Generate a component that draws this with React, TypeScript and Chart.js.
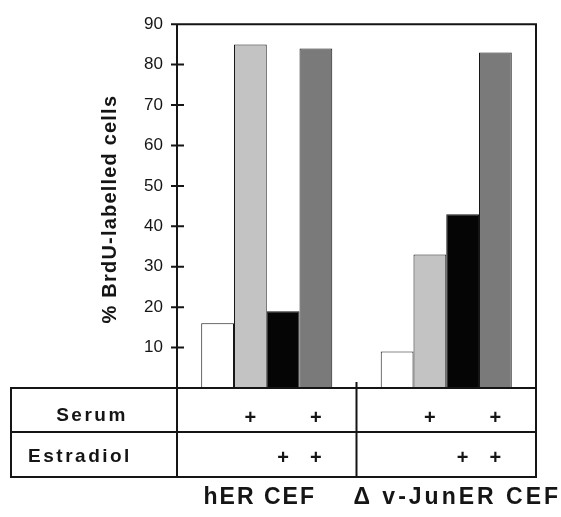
import React, { useEffect, useRef } from "react";
import { Chart, registerables } from "chart.js";

Chart.register(...registerables);

const categories = ["hER CEF", "\u0394 v-JunER CEF"];
const conditionLabels = ["none", "Serum", "Estradiol", "Serum + Estradiol"];
const valuesNone = [16, 9];
const valuesSerum = [85, 33];
const valuesEstradiol = [19, 43];
const valuesBoth = [84, 83];
const serumRow = [false, true, false, true];
const estradiolRow = [false, false, true, true];
const yTicks = [0, 10, 20, 30, 40, 50, 60, 70, 80, 90];
const yTitle = "% BrdU-labelled cells";
const rowLabels = ["Serum", "Estradiol"];

const FONT = '"Liberation Sans", Arial, Helvetica, sans-serif';
const INK = "#151515";

const tablePlugin = {
  id: "tablePlugin",
  afterDatasetsDraw(chart: any) {
    const { ctx, chartArea, scales } = chart;
    const { left, right, top, bottom } = chartArea;
    const y = scales.y;
    const tableLeft = 11;
    const row1 = bottom + 44;
    const row2 = bottom + 89;
    const mid = (scales.x.getPixelForValue(0) + scales.x.getPixelForValue(1)) / 2;
    ctx.save();
    ctx.strokeStyle = INK;
    ctx.lineWidth = 2;
    ctx.lineCap = "square";
    ctx.beginPath();
    // frame
    ctx.moveTo(left, bottom);
    ctx.lineTo(left, top);
    ctx.lineTo(right, top);
    ctx.lineTo(right, row2);
    // table horizontal lines
    ctx.moveTo(tableLeft, bottom);
    ctx.lineTo(right, bottom);
    ctx.moveTo(tableLeft, row1);
    ctx.lineTo(right, row1);
    ctx.moveTo(tableLeft, row2);
    ctx.lineTo(right, row2);
    // verticals
    ctx.moveTo(tableLeft, bottom);
    ctx.lineTo(tableLeft, row2);
    ctx.moveTo(left, bottom);
    ctx.lineTo(left, row2);
    ctx.moveTo(mid, bottom - 5);
    ctx.lineTo(mid, row2);
    // ticks crossing the axis
    for (const t of yTicks) {
      if (t === 0) continue;
      const py = y.getPixelForValue(t);
      ctx.moveTo(left - 5, py);
      ctx.lineTo(left + 6, py);
    }
    ctx.stroke();

    // y title
    ctx.fillStyle = INK;
    ctx.font = `bold 20px ${FONT}`;
    (ctx as any).letterSpacing = "1.2px";
    ctx.textAlign = "center";
    ctx.textBaseline = "middle";
    ctx.save();
    ctx.translate(110, (top + bottom) / 2 + 3);
    ctx.rotate(-Math.PI / 2);
    ctx.fillText(yTitle, 0, 0);
    ctx.restore();

    // row labels
    ctx.font = `bold 19px ${FONT}`;
    (ctx as any).letterSpacing = "2.5px";
    ctx.fillText(rowLabels[0], 92, bottom + 28);
    ctx.fillText(rowLabels[1], 80, bottom + 69);

    // plus signs
    ctx.font = `bold 20px ${FONT}`;
    (ctx as any).letterSpacing = "0px";
    for (let c = 0; c < categories.length; c++) {
      for (let d = 0; d < 4; d++) {
        const bar = chart.getDatasetMeta(d).data[c];
        if (serumRow[d]) ctx.fillText("+", bar.x, bottom + 30);
        if (estradiolRow[d]) ctx.fillText("+", bar.x, bottom + 70);
      }
    }

    // category labels
    ctx.font = `bold 23px ${FONT}`;
    (ctx as any).letterSpacing = "2px";
    ctx.fillText(categories[0], scales.x.getPixelForValue(0) - 7, bottom + 110);
    (ctx as any).letterSpacing = "3px";
    ctx.fillText(categories[1], scales.x.getPixelForValue(1) + 11, bottom + 110);
    ctx.restore();
  },
};

export default function App() {
  const ref = useRef<HTMLCanvasElement | null>(null);
  useEffect(() => {
    if (!ref.current) return;
    const common = {
      borderColor: INK,
      borderWidth: 1,
      borderSkipped: false,
      categoryPercentage: 0.73,
      barPercentage: 1.0,
    };
    const chart = new Chart(ref.current, {
      type: "bar",
      data: {
        labels: categories,
        datasets: [
          { label: conditionLabels[0], data: valuesNone, backgroundColor: "#ffffff", ...common },
          { label: conditionLabels[1], data: valuesSerum, backgroundColor: "#c3c3c3", ...common },
          { label: conditionLabels[2], data: valuesEstradiol, backgroundColor: "#050505", ...common },
          { label: conditionLabels[3], data: valuesBoth, backgroundColor: "#7a7a7a", ...common },
        ],
      },
      options: {
        animation: false,
        responsive: false,
        devicePixelRatio: 1,
        layout: { padding: { top: 19, right: 25, bottom: 129, left: 0 } },
        plugins: { legend: { display: false }, tooltip: { enabled: false } },
        scales: {
          x: { display: false, grid: { display: false } },
          y: {
            min: 0,
            max: 90,
            afterFit: (s: any) => {
              s.width = 177;
            },
            afterBuildTicks: (s: any) => {
              s.ticks = yTicks.map((v) => ({ value: v }));
            },
            grid: { display: false, drawTicks: false },
            border: { display: false },
            ticks: {
              padding: 14,
              color: INK,
              font: { family: FONT, size: 17 },
              callback: (v: any) => (v === 0 ? "" : String(v)),
            },
          },
        },
      },
      plugins: [tablePlugin],
    });
    return () => chart.destroy();
  }, []);
  return (
    <div style={{ position: "absolute", left: 0, top: 0, width: 561, height: 517, background: "#fff" }}>
      <canvas ref={ref} width={561} height={517} style={{ width: 561, height: 517, display: "block" }} />
    </div>
  );
}
